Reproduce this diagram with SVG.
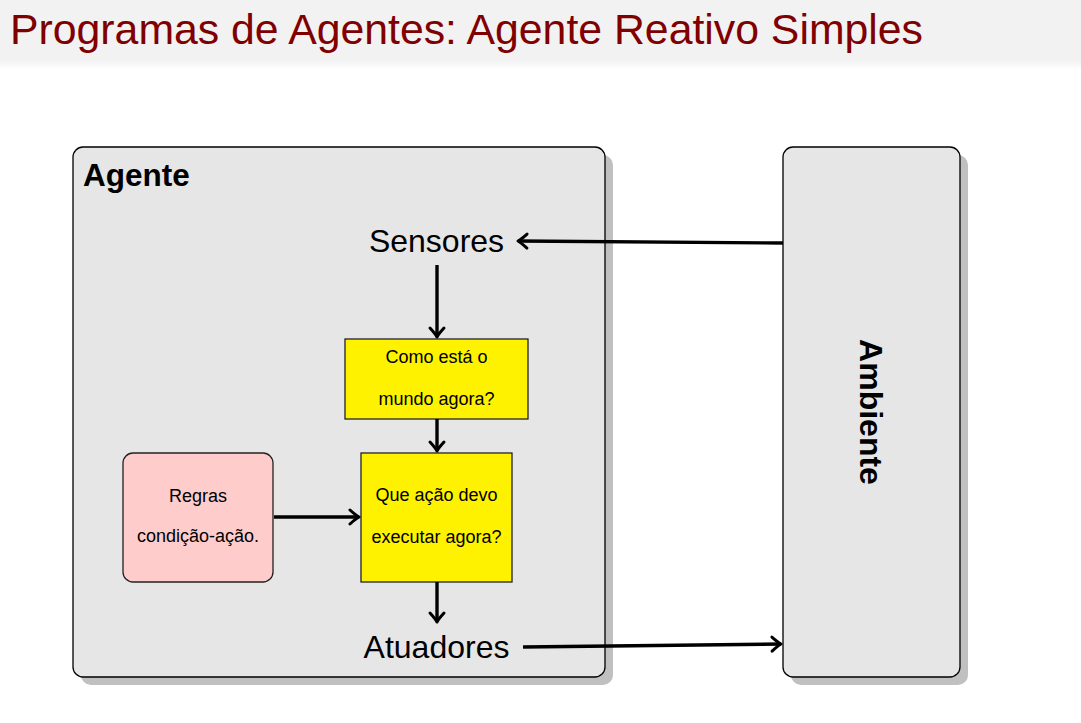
<svg xmlns="http://www.w3.org/2000/svg" width="1081" height="723" viewBox="0 0 1081 723">
  <defs>
    <linearGradient id="fade" x1="0" y1="0" x2="0" y2="1">
      <stop offset="0" stop-color="#f2f2f2"/>
      <stop offset="1" stop-color="#ffffff"/>
    </linearGradient>
    <marker id="arr" markerUnits="userSpaceOnUse" markerWidth="20" markerHeight="20" viewBox="-12 -10 14 20" refX="0" refY="0" orient="auto">
      <path d="M-9,-7 Q-3,-1.5 0,0 Q-3,1.5 -9,7" fill="none" stroke="#000" stroke-width="3" stroke-linecap="round" stroke-linejoin="round"/>
    </marker>
    <style>
      .shadow { fill: #c0c0c0; }
      .panel { fill: #e6e6e6; stroke: #000; stroke-width: 1.3; }
      .yellow { fill: #fff200; stroke: #222; stroke-width: 1.3; }
      .pink { fill: #ffcccc; stroke: #222; stroke-width: 1.3; }
      .conn { fill: none; stroke: #000; stroke-width: 3.4; marker-end: url(#arr); }
      .big { font-family: "Liberation Sans", Arial, sans-serif; font-size: 32px; fill: #000; text-anchor: middle; }
      .small { font-family: "Liberation Sans", Arial, sans-serif; font-size: 18px; fill: #000; text-anchor: middle; }
      .bold { font-family: "Liberation Sans", Arial, sans-serif; font-weight: bold; fill: #000; }
    </style>
  </defs>

  <g id="title-bar">
    <rect x="0" y="0" width="1081" height="60" fill="#f2f2f2"/>
    <rect x="0" y="60" width="1081" height="10" fill="url(#fade)"/>
    <text x="10" y="44" font-family="'Liberation Sans', Arial, sans-serif" font-size="43" fill="#800000" textLength="913" lengthAdjust="spacingAndGlyphs">Programas de Agentes: Agente Reativo Simples</text>
  </g>

  <g id="agente">
    <rect class="shadow" x="81" y="155" width="532" height="530" rx="10"/>
    <rect class="panel" x="73" y="147" width="532" height="530" rx="10"/>
    <text class="bold" x="83" y="186" font-size="31.5">Agente</text>
  </g>

  <g id="ambiente">
    <rect class="shadow" x="791" y="155" width="177" height="530" rx="10"/>
    <rect class="panel" x="783" y="147" width="177" height="530" rx="10"/>
    <text class="bold" font-size="32" text-anchor="middle" transform="translate(860,412) rotate(90)">Ambiente</text>
  </g>

  <g id="sensores">
    <text class="big" x="436.5" y="252">Sensores</text>
  </g>

  <g id="atuadores">
    <text class="big" x="436.5" y="658">Atuadores</text>
  </g>

  <g id="como-esta">
    <rect class="yellow" x="345" y="339" width="183" height="80"/>
    <text class="small" x="436.5" y="363">Como está o</text>
    <text class="small" x="436.5" y="405">mundo agora?</text>
  </g>

  <g id="que-acao">
    <rect class="yellow" x="361" y="453" width="151" height="129"/>
    <text class="small" x="436.5" y="501">Que ação devo</text>
    <text class="small" x="436.5" y="543">executar agora?</text>
  </g>

  <g id="regras">
    <rect class="pink" x="123" y="453" width="150" height="129" rx="10"/>
    <text class="small" x="198" y="502">Regras</text>
    <text class="small" x="198" y="542">condição-ação.</text>
  </g>

  <g id="connectors">
    <path class="conn" d="M783,243 L518,241"/>
    <path class="conn" d="M437,265 L437,337"/>
    <path class="conn" d="M437,419 L437,451"/>
    <path class="conn" d="M274,517 L359,517"/>
    <path class="conn" d="M437,582 L437,622"/>
    <path class="conn" d="M523,647 L781,644"/>
  </g>
</svg>
